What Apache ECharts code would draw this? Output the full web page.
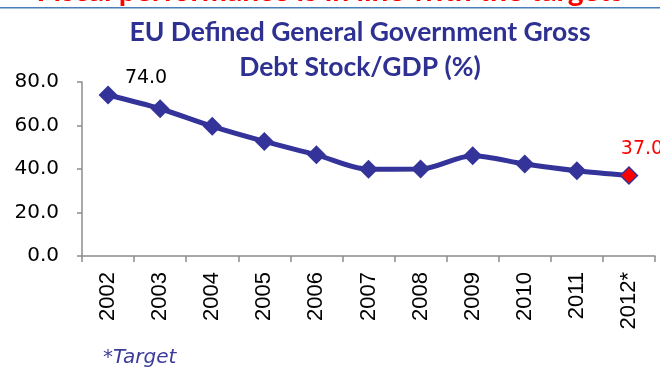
<!DOCTYPE html>
<html>
<head>
<meta charset="utf-8">
<script src="https://cdn.jsdelivr.net/npm/echarts@6/dist/echarts.min.js"></script>
<style>
  html, body { margin: 0; padding: 0; background: #ffffff; }
  #chart { width: 660px; height: 368px; }
</style>
</head>
<body>
<div id="chart"></div>
<script>
// Gross general government debt stock as a share of GDP (%)
const years = ['2002', '2003', '2004', '2005', '2006', '2007', '2008', '2009', '2010', '2011', '2012*'];
const debtToGdp = [74.0, 67.7, 59.6, 52.7, 46.5, 39.9, 40.0, 46.1, 42.3, 39.2, 37.0];
const labelledYears = ['2002', '2012*'];   // points that carry a value label
const targetYear = '2012*';                // programme target, drawn in red

const NAVY = '#333399';
const AXIS_GREY = '#8c8c8c';

const chart = echarts.init(document.getElementById('chart'), null, { renderer: 'canvas' });

const seriesData = debtToGdp.map(function (v, i) {
  const year = years[i];
  const item = { value: v };
  if (year === targetYear) {
    item.symbolSize = 17;
    item.itemStyle = { color: '#ff0000', borderColor: NAVY, borderWidth: 1.5 };
  }
  if (labelledYears.indexOf(year) >= 0) {
    const isTarget = year === targetYear;
    item.label = {
      show: true,
      position: 'inside',
      offset: isTarget ? [13, -26] : [38, -17],
      formatter: function (p) { return p.value.toFixed(1); },
      color: isTarget ? '#ff0000' : '#000000',
      fontFamily: 'DejaVu Sans',
      fontSize: 19
    };
  }
  return item;
});

chart.setOption({
  animation: false,
  backgroundColor: '#ffffff',
  title: {
    text: 'EU Defined General Government Gross\nDebt Stock/GDP (%)',
    left: 355,
    top: 10,
    textAlign: 'center',
    textStyle: {
      fontFamily: 'Lato',
      fontWeight: 'bold',
      fontSize: 26.5,
      lineHeight: 35,
      color: '#2e3192'
    }
  },
  graphic: [
    {
      // slide heading running off the top edge
      type: 'text',
      left: 'center',
      top: -24,
      style: {
        text: 'Fiscal performance is in line with the targets',
        fontFamily: 'Lato',
        fontWeight: 'bold',
        fontSize: 30,
        fill: '#ff0000'
      }
    },
    {
      type: 'rect',
      shape: { x: 0, y: 7, width: 660, height: 1.5 },
      style: { fill: '#4a7ebb' }
    },
    {
      type: 'text',
      left: 103,
      top: 348,
      style: {
        text: '*Target',
        fontFamily: 'DejaVu Sans',
        fontStyle: 'italic',
        fontSize: 20,
        fill: '#3c3c9c'
      }
    }
  ],
  grid: {
    left: 82,
    right: 5,
    top: 82,
    bottom: 112,
    containLabel: false
  },
  xAxis: {
    type: 'category',
    data: years,
    boundaryGap: true,
    axisLine: { lineStyle: { color: AXIS_GREY, width: 1.5 } },
    axisTick: { show: true, length: 6, lineStyle: { color: AXIS_GREY, width: 1.5 } },
    axisLabel: {
      rotate: 90,
      margin: 16,
      color: '#000000',
      fontFamily: 'Liberation Sans',
      fontSize: 22
    },
    splitLine: { show: false }
  },
  yAxis: {
    type: 'value',
    min: 0,
    max: 80,
    interval: 20,
    axisLine: { show: true, lineStyle: { color: AXIS_GREY, width: 1.5 } },
    axisTick: { show: true, length: 5, lineStyle: { color: AXIS_GREY, width: 1.5 } },
    axisLabel: {
      margin: 23,
      color: '#000000',
      fontFamily: 'DejaVu Sans',
      fontSize: 20,
      formatter: function (v) { return v.toFixed(1); }
    },
    splitLine: { show: false }
  },
  series: [
    {
      type: 'line',
      data: seriesData,
      smooth: 0.3,
      symbol: 'diamond',
      symbolSize: 19,
      lineStyle: { color: NAVY, width: 5 },
      itemStyle: { color: NAVY },
      z: 3
    }
  ]
});
</script>
</body>
</html>
